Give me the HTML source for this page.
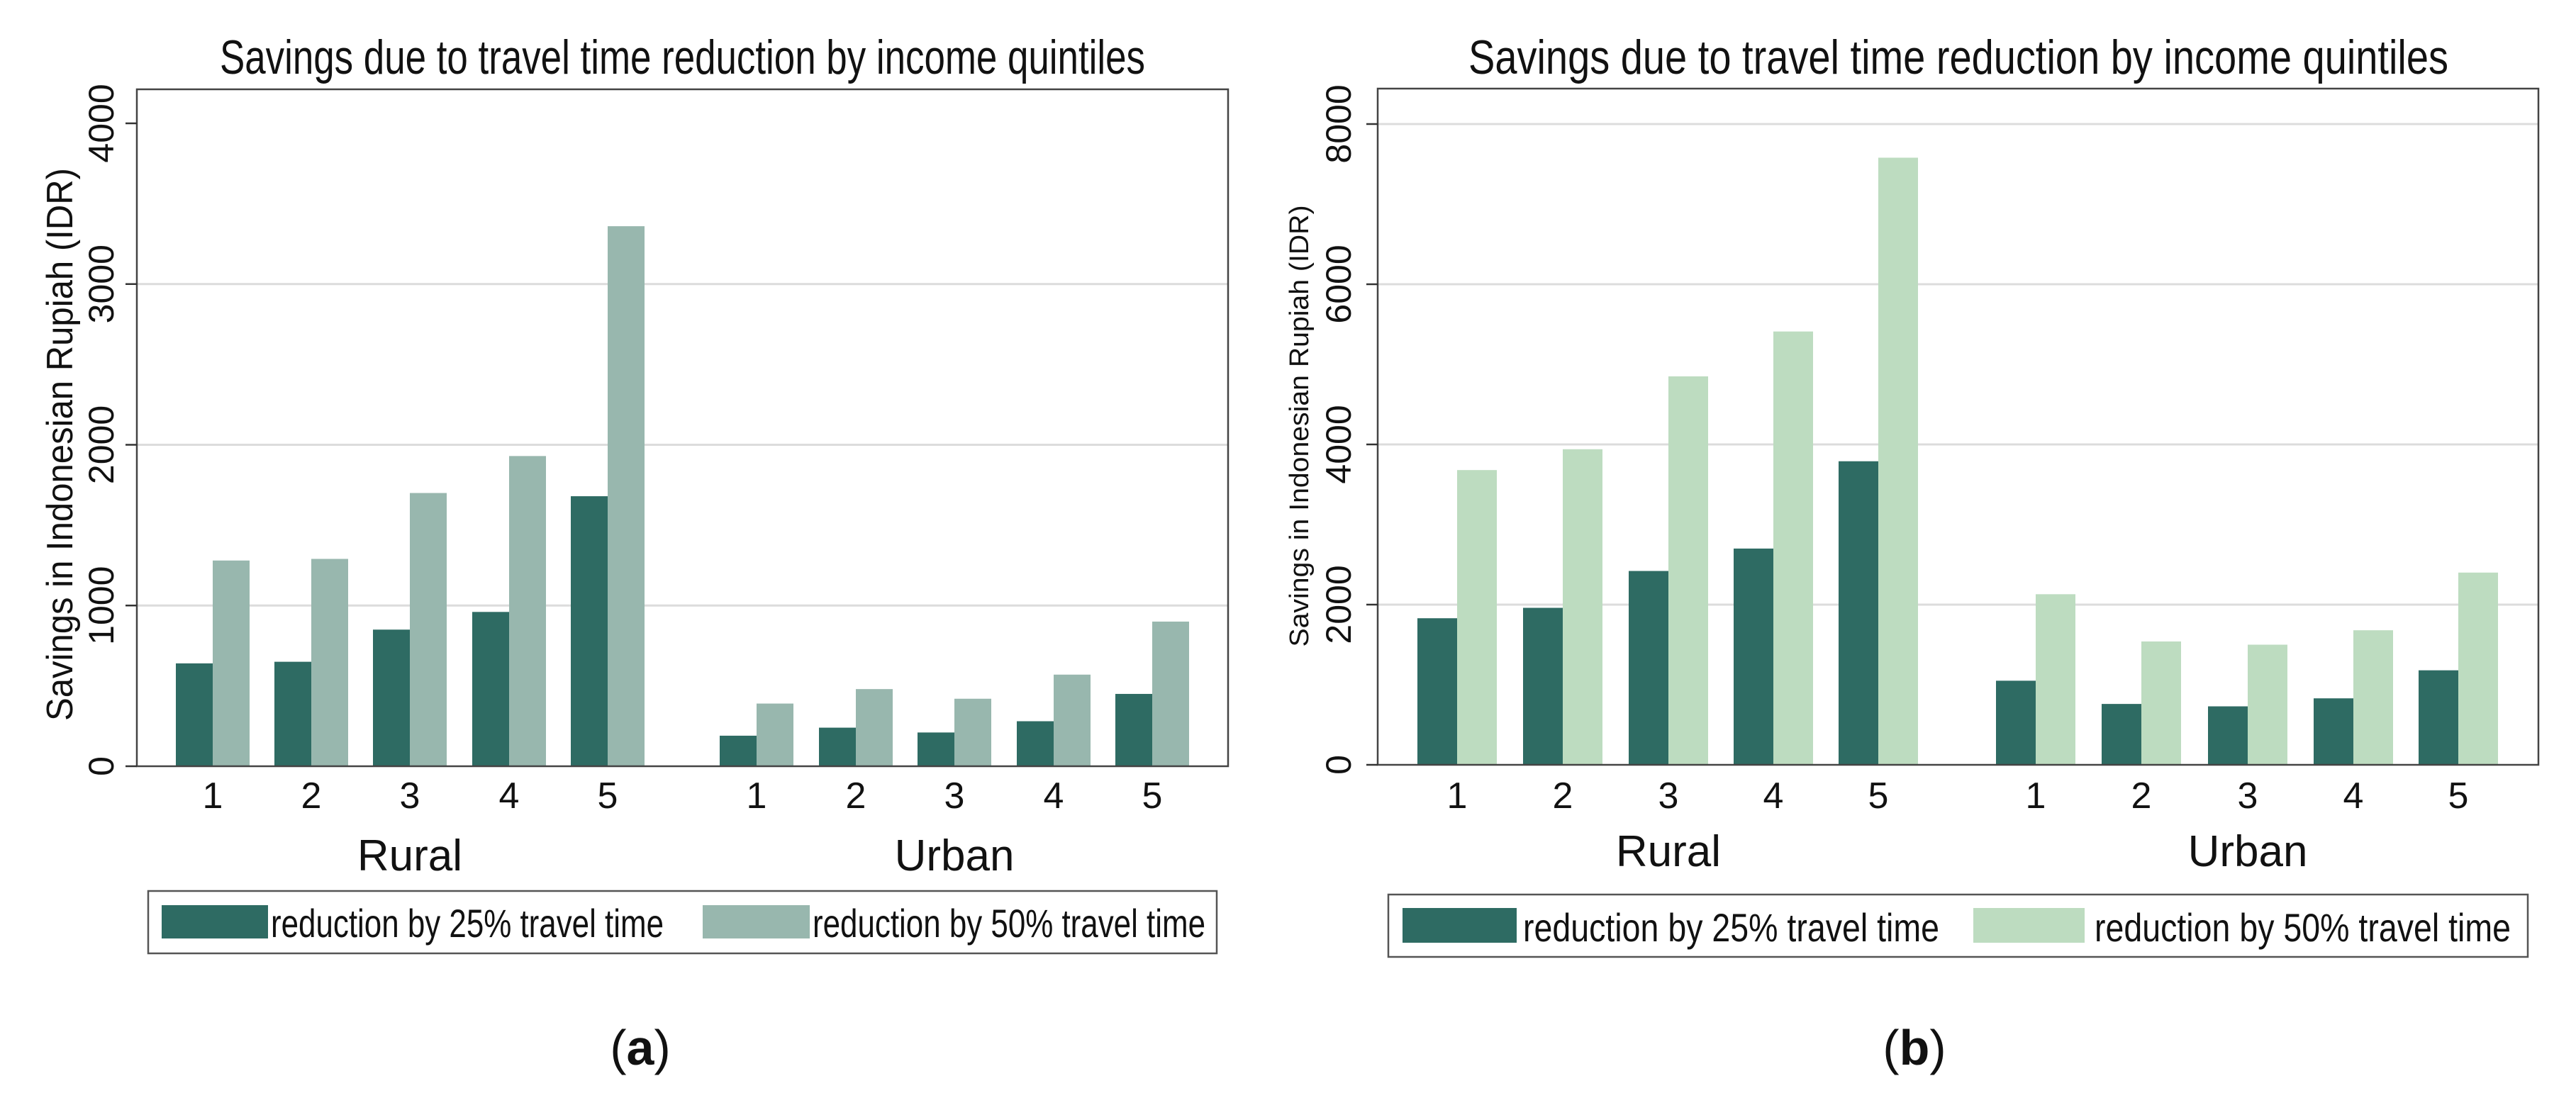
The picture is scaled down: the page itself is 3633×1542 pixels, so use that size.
<!DOCTYPE html>
<html><head><meta charset="utf-8"><style>
html,body{margin:0;padding:0;background:#fff;}
svg{display:block;}
text{font-family:"Liberation Sans Narrow","Liberation Sans",sans-serif;fill:#111;}
</style></head><body>
<svg id="fig" width="3633" height="1542" viewBox="0 0 3633 1542" xmlns="http://www.w3.org/2000/svg"></svg>
<script>
const quintiles = ["1","2","3","4","5"];
const areas = ["Rural","Urban"];
const aRural25 = [640,650,850,960,1680];
const aRural50 = [1280,1290,1700,1930,3360];
const aUrban25 = [190,240,210,280,450];
const aUrban50 = [390,480,420,570,900];
const aTicks = [0,1000,2000,3000,4000];
const bRural25 = [1830,1960,2420,2700,3790];
const bRural50 = [3680,3940,4850,5410,7580];
const bUrban25 = [1050,760,730,830,1180];
const bUrban50 = [2130,1540,1500,1680,2400];
const bTicks = [0,2000,4000,6000,8000];
const legendLabels = ["reduction by 25% travel time","reduction by 50% travel time"];

const NS="http://www.w3.org/2000/svg";
const svg=document.getElementById('fig');
function mk(tag,attrs,parent){const e=document.createElementNS(NS,tag);for(const k in attrs)e.setAttribute(k,attrs[k]);(parent||svg).appendChild(e);return e;}

function panel(p){
  const g=mk('g',{});
  
  
  const y=v=>p.y0-(v/p.perUnit);
  p.ticks.forEach(t=>{
    if(t>0 && (t<p.ticks[p.ticks.length-1]||p.topGrid)){
      const l=mk('line',{x1:p.x0,x2:p.x1,y1:y(t),y2:y(t),stroke:'#dcdcdc','stroke-width':3},g);
      
      
    }
  });
  const groups=[[p.r25,p.r50,p.rc],[p.u25,p.u50,p.uc]];
  groups.forEach((gr,gi)=>{
    quintiles.forEach((q,i)=>{
      const cx=p.x0+gr[2][i];
      const b1=mk('rect',{x:cx-p.bw,y:y(gr[0][i]),width:p.bw,height:p.y0-y(gr[0][i]),fill:'#2e6b63'},g);
      
      
      const b2=mk('rect',{x:cx,y:y(gr[1][i]),width:p.bw,height:p.y0-y(gr[1][i]),fill:p.light},g);
      
      
      const tl=mk('text',{x:cx,y:p.tickBase,'text-anchor':'middle','font-size':52,'font-family':'Liberation Sans, sans-serif'},g);
      tl.textContent=q;
      
      
    });
    const al=mk('text',{x:p.x0+gr[2][2],y:p.areaBase,'text-anchor':'middle','font-size':62},g);
    al.textContent=areas[gi];
    
    
  });
  const fr=mk('rect',{x:p.x0,y:p.top,width:p.x1-p.x0,height:p.y0-p.top,fill:'none',stroke:'#444','stroke-width':2.5},g);
  
  
  p.ticks.forEach(t=>{
    const tk=mk('line',{x1:p.x0-16,x2:p.x0,y1:y(t),y2:y(t),stroke:'#333','stroke-width':2.5},g);
    
    
    const tx=mk('text',{x:0,y:0,'text-anchor':'middle','font-size':50,'font-family':'Liberation Sans, sans-serif',transform:`translate(${p.yLabX},${y(t)}) rotate(-90)`},g);
    tx.textContent=String(t);
    
    
  });
  const yt=mk('text',{x:0,y:0,'text-anchor':'middle','font-size':p.ytFont,'font-family':'Liberation Sans, sans-serif',textLength:p.ytLen,lengthAdjust:'spacingAndGlyphs',transform:`translate(${p.ytX},${p.ytY}) rotate(-90)`},g);
  yt.textContent='Savings in Indonesian Rupiah (IDR)';
  
  
  const ti=mk('text',{x:p.titleX,y:104,'font-size':68,textLength:p.titleLen,lengthAdjust:'spacingAndGlyphs'},g);
  ti.textContent='Savings due to travel time reduction by income quintiles';
  
  
  const lg=mk('g',{},g);
  
  
  mk('rect',{x:p.lx0,y:p.ly0,width:p.lx1-p.lx0,height:p.ly1-p.ly0,fill:'#fff',stroke:'#555','stroke-width':2.5},lg);
  p.leg.forEach((L,i)=>{
    const sw=mk('rect',{x:L[0],y:p.sy0,width:L[1]-L[0],height:p.sy1-p.sy0,fill:i?p.light:'#2e6b63'},lg);
    
    
    const lt=mk('text',{x:L[2],y:p.sy1-2,'font-size':56,textLength:L[3]-L[2],lengthAdjust:'spacingAndGlyphs'},lg);
    lt.textContent=legendLabels[i];
    
    
  });
  const cap=mk('text',{x:p.capX,y:1502,'text-anchor':'middle','font-size':70,'font-family':'Liberation Serif, serif'},g);
  cap.innerHTML='(<tspan font-weight="bold">'+p.cap+'</tspan>)';
  
  
}

panel({id:'panel-a',x0:193,x1:1732,top:126,y0:1081,perUnit:1000/226.75,ticks:aTicks,topGrid:false,
  r25:aRural25,r50:aRural50,u25:aUrban25,u50:aUrban50,
  rc:[107,246,385,525,664],uc:[874,1014,1153,1293,1432],bw:52,light:'#98b7ae',
  tickBase:1140,areaBase:1228,yLabX:160,ytX:102,ytY:627,ytLen:780,ytFont:52,
  titleX:310,titleLen:1305,lx0:209,lx1:1716,ly0:1257,ly1:1345,sy0:1277,sy1:1324,
  leg:[[228,378,382,936],[991,1142,1146,1700]],capX:903,cap:'a'});
panel({id:'panel-b',x0:1943,x1:3580,top:125,y0:1079,perUnit:1000/113,ticks:bTicks,topGrid:true,
  r25:bRural25,r50:bRural50,u25:bUrban25,u50:bUrban50,
  rc:[112,261,410,558,706],uc:[928,1077,1227,1376,1524],bw:56,light:'#bddcc0',
  tickBase:1140,areaBase:1222,yLabX:1905,ytX:1845,ytY:601,ytLen:623,ytFont:38,
  titleX:2071,titleLen:1382,lx0:1958,lx1:3565,ly0:1262,ly1:1350,sy0:1281,sy1:1330,
  leg:[[1978,2139,2148,2735],[2783,2940,2954,3541]],capX:2700,cap:'b'});
</script>
</body></html>
